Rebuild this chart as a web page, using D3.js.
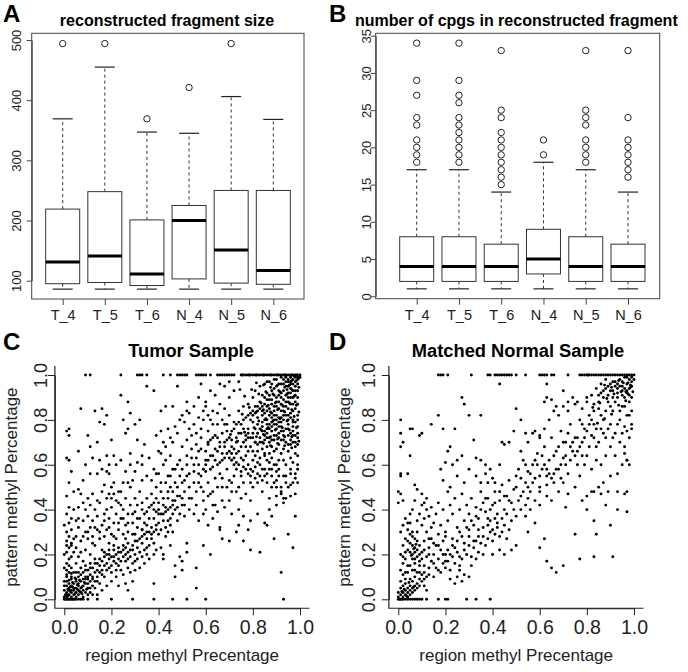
<!DOCTYPE html>
<html>
<head>
<meta charset="utf-8">
<script src="https://cdn.jsdelivr.net/npm/d3@7"></script>
<style>
  body { margin: 0; background: #fff; }
  svg, svg text { font-family: "Liberation Sans", Arial, Helvetica, sans-serif; }
</style>
</head>
<body>
<div id="chart"></div>
<script>
// ---- boxplot data (A, B) ----
var groups = ["T_4", "T_5", "T_6", "N_4", "N_5", "N_6"];
// [low whisker, q1, median, q3, high whisker]
var sizeStats = [[86, 95, 131, 219, 369], [86, 97, 141, 248, 455], [86, 92, 111, 201, 347],
                 [86, 103, 200, 225, 345], [86, 96, 151, 250, 406], [86, 94, 117, 250, 368]];
var sizeOutliers = [[494], [494], [369], [421], [494], []];
var sizeTicks = [100, 200, 300, 400, 500];

var cpgStats = [[1, 2, 4, 8, 17], [1, 2, 4, 8, 17], [1, 2, 4, 7, 14],
                [1, 3, 5, 9, 18], [1, 2, 4, 8, 17], [1, 2, 4, 7, 14]];
var cpgOutliers = [[18, 19, 20, 21, 23, 24, 27, 29, 34],
                   [18, 19, 20, 21, 22, 23, 24, 26, 27, 29, 34],
                   [15, 16, 17, 18, 19, 20, 21, 22, 24, 25, 33],
                   [19, 21],
                   [18, 19, 20, 21, 23, 24, 25, 33],
                   [16, 17, 18, 19, 20, 21, 24, 33]];
var cpgTicks = [0, 5, 10, 15, 20, 25, 30, 35];

// ---- scatter data (C, D) ----
var methTicks = [0, 0.2, 0.4, 0.6, 0.8, 1.0];

// points sitting on pattern = 1.0 and pattern = 0.0
var tumorTopX = [0.09, 0.11, 0.24, 0.31, 0.32, 0.33, 0.35, 0.42, 0.45, 0.48, 0.49, 0.5, 0.51, 0.52, 0.56, 0.57,
  0.58, 0.59, 0.6, 0.62, 0.65, 0.66, 0.67, 0.68, 0.69, 0.7, 0.71, 0.72, 0.75, 0.755, 0.76, 0.77, 0.78, 0.785,
  0.79, 0.8, 0.81, 0.815, 0.82, 0.83, 0.84, 0.845, 0.85, 0.86, 0.87, 0.875, 0.88, 0.89, 0.9, 0.905, 0.91, 0.92,
  0.93, 0.935, 0.94, 0.95, 0.96, 0.965, 0.97, 0.98, 0.985, 0.99, 1.0];
var tumorZeroX = [0, 0.005, 0.01, 0.015, 0.02, 0.025, 0.03, 0.035, 0.04, 0.045, 0.05, 0.06, 0.07, 0.08,
  0.1, 0.14, 0.2, 0.29, 0.38, 0.46, 0.52, 0.6, 0.93];
var tumorPoints = [
  // low-left cluster
  [0, 0.01], [0.01, 0.01], [0.01, 0.03], [0.02, 0.02], [0.02, 0.04], [0.03, 0.01], [0.03, 0.03], [0.03, 0.06],
  [0.04, 0.02], [0.04, 0.04], [0.04, 0.07], [0.05, 0.01], [0.05, 0.03], [0.05, 0.05], [0.06, 0.02], [0.06, 0.04],
  [0.06, 0.07], [0.07, 0.03], [0.07, 0.05], [0.07, 0.08], [0.08, 0.04], [0.08, 0.06], [0.09, 0.03], [0.09, 0.07],
  [0.1, 0.05], [0, 0.04], [0.01, 0.06], [0.02, 0.07], [0, 0.06], [0.01, 0.08], [0.03, 0.09], [0.05, 0.09],
  [0.04, 0.05], [0.02, 0.05], [0.06, 0.06], [0.03, 0.04], [0.01, 0.02], [0.08, 0.01], [0.1, 0.02], [0.11, 0.03],
  [0.11, 0.08], [0.12, 0.06], [0.13, 0.08], [0.09, 0.09], [0.1, 0.1], [0.015, 0.015], [0.025, 0.035], [0.045, 0.025],
  [0.035, 0.055], [0.055, 0.065], [0.065, 0.035], [0.075, 0.055],
  [0.005, 0.02], [0.015, 0.045], [0.025, 0.055], [0.035, 0.075], [0.045, 0.095], [0.055, 0.045], [0.065, 0.085],
  [0.075, 0.025], [0.085, 0.075], [0.095, 0.045], [0.02, 0.085], [0.01, 0.11], [0.03, 0.115], [0.05, 0.12], [0.07, 0.11],
  // left column
  [0, 0.08], [0.01, 0.1], [0.02, 0.12], [0, 0.14], [0.01, 0.16], [0.03, 0.14], [0.02, 0.18], [0, 0.2],
  [0.01, 0.21], [0.03, 0.19], [0.02, 0.23], [0.01, 0.26], [0.03, 0.24], [0.04, 0.21], [0.02, 0.28], [0.01, 0.3],
  [0.03, 0.31], [0.04, 0.27], [0.02, 0.34], [0, 0.33], [0.01, 0.38], [0.03, 0.36], [0.02, 0.41], [0.04, 0.4],
  [0.05, 0.16], [0.05, 0.23], [0.06, 0.19], [0.07, 0.14], [0.06, 0.12], [0.07, 0.21], [0.08, 0.17], [0.09, 0.15],
  [0.04, 0.12], [0.03, 0.1], [0.01, 0.13], [0.02, 0.15], [0.01, 0.24],
  // lower diagonal band
  [0.05, 0.08], [0.06, 0.1], [0.08, 0.09], [0.08, 0.12], [0.09, 0.1], [0.1, 0.13], [0.1, 0.09], [0.11, 0.11],
  [0.12, 0.14], [0.12, 0.1], [0.13, 0.12], [0.13, 0.16], [0.14, 0.13], [0.14, 0.1], [0.15, 0.15], [0.15, 0.12],
  [0.16, 0.17], [0.16, 0.13], [0.17, 0.15], [0.17, 0.19], [0.18, 0.16], [0.18, 0.13], [0.19, 0.18], [0.19, 0.2],
  [0.2, 0.15], [0.2, 0.19], [0.21, 0.17], [0.21, 0.22], [0.22, 0.2], [0.22, 0.16], [0.23, 0.18], [0.23, 0.23],
  [0.24, 0.21], [0.24, 0.17], [0.25, 0.19], [0.25, 0.24], [0.26, 0.2], [0.26, 0.23], [0.27, 0.18], [0.27, 0.25],
  [0.28, 0.22], [0.28, 0.19], [0.29, 0.24], [0.3, 0.2], [0.3, 0.26], [0.31, 0.23], [0.32, 0.27], [0.32, 0.21],
  [0.33, 0.25], [0.34, 0.29], [0.34, 0.22], [0.35, 0.27], [0.36, 0.3], [0.36, 0.24], [0.37, 0.32], [0.37, 0.27],
  [0.38, 0.3], [0.39, 0.33], [0.4, 0.29], [0.4, 0.34], [0.41, 0.31], [0.42, 0.35], [0.43, 0.32], [0.44, 0.3],
  [0.45, 0.33], [0.46, 0.3], [0.43, 0.28], [0.38, 0.25], [0.35, 0.2], [0.31, 0.18], [0.27, 0.14], [0.24, 0.13],
  [0.2, 0.12], [0.17, 0.1], [0.22, 0.13], [0.29, 0.16], [0.33, 0.19], [0.2, 0.08], [0.22, 0.1], [0.25, 0.11],
  [0.28, 0.12], [0.3, 0.13], [0.32, 0.14], [0.34, 0.16], [0.36, 0.18], [0.38, 0.2], [0.39, 0.22], [0.41, 0.23],
  [0.42, 0.2], [0.29, 0.08], [0.26, 0.07], [0.23, 0.06], [0.38, 0.07], [0.27, 0.04], [0.18, 0.06], [0.15, 0.07],
  [0.13, 0.05], [0.11, 0.05], [0.16, 0.04], [0.12, 0.02], [0.14, 0.02], [0.11, 0.14], [0.14, 0.16], [0.18, 0.2],
  [0.21, 0.24], [0.26, 0.27], [0.3, 0.29], [0.33, 0.31],
  [0.09, 0.13], [0.11, 0.16], [0.13, 0.18], [0.15, 0.18], [0.17, 0.21], [0.19, 0.22], [0.21, 0.19], [0.23, 0.21],
  [0.25, 0.22], [0.27, 0.21], [0.29, 0.22], [0.31, 0.26], [0.33, 0.28], [0.35, 0.3], [0.37, 0.29], [0.39, 0.31],
  [0.16, 0.11], [0.19, 0.14], [0.23, 0.15], [0.26, 0.17], [0.3, 0.17], [0.35, 0.23], [0.14, 0.08], [0.12, 0.09],
  [0.1, 0.07],
  // upper-left spread
  [0.03, 0.25], [0.05, 0.28], [0.06, 0.32], [0.07, 0.26], [0.08, 0.35], [0.09, 0.3], [0.09, 0.22], [0.1, 0.27],
  [0.1, 0.37], [0.11, 0.32], [0.11, 0.2], [0.12, 0.35], [0.12, 0.28], [0.13, 0.4], [0.13, 0.24], [0.14, 0.31],
  [0.14, 0.37], [0.15, 0.27], [0.15, 0.43], [0.16, 0.33], [0.16, 0.22], [0.17, 0.38], [0.17, 0.28], [0.18, 0.45],
  [0.18, 0.31], [0.19, 0.36], [0.19, 0.25], [0.2, 0.41], [0.2, 0.29], [0.21, 0.47], [0.21, 0.34], [0.22, 0.38],
  [0.22, 0.27], [0.23, 0.43], [0.23, 0.31], [0.24, 0.36], [0.24, 0.48], [0.25, 0.29], [0.25, 0.4], [0.26, 0.33],
  [0.26, 0.45], [0.27, 0.38], [0.27, 0.3], [0.28, 0.42], [0.28, 0.5], [0.29, 0.34], [0.29, 0.29], [0.3, 0.39],
  [0.3, 0.45], [0.31, 0.32], [0.31, 0.42], [0.32, 0.36], [0.32, 0.48], [0.33, 0.31], [0.33, 0.43], [0.34, 0.38],
  [0.34, 0.34], [0.35, 0.45], [0.35, 0.33], [0.36, 0.41], [0.36, 0.36], [0.37, 0.47], [0.38, 0.36], [0.38, 0.43],
  [0.39, 0.39], [0.39, 0.5], [0.4, 0.43], [0.41, 0.38], [0.41, 0.52], [0.42, 0.45], [0.43, 0.41], [0.44, 0.48],
  [0.45, 0.36], [0.46, 0.44], [0.47, 0.4], [0.48, 0.46], [0.49, 0.38], [0.5, 0.45],
  [0.05, 0.35], [0.06, 0.41], [0.07, 0.47], [0.08, 0.43], [0.09, 0.4], [0.1, 0.45], [0.11, 0.42], [0.12, 0.47],
  [0.14, 0.44], [0.16, 0.48], [0.17, 0.51], [0.19, 0.47], [0.2, 0.5], [0.21, 0.52], [0.23, 0.48], [0.25, 0.52],
  [0.26, 0.57], [0.27, 0.52], [0.29, 0.53], [0.3, 0.57], [0.33, 0.53], [0.35, 0.55], [0.37, 0.53], [0.39, 0.56],
  [0.31, 0.61], [0.28, 0.6], [0.24, 0.62], [0.21, 0.64], [0.19, 0.6], [0.18, 0.64], [0.15, 0.62], [0.11, 0.56],
  [0.08, 0.53], [0.06, 0.49], [0.04, 0.48], [0.02, 0.52],
  [0.06, 0.36], [0.08, 0.28], [0.1, 0.3], [0.12, 0.25], [0.13, 0.32], [0.15, 0.3], [0.17, 0.35], [0.19, 0.32],
  [0.21, 0.28], [0.23, 0.34], [0.25, 0.36], [0.27, 0.34], [0.29, 0.38], [0.31, 0.36], [0.33, 0.4], [0.35, 0.39],
  [0.37, 0.42], [0.2, 0.45], [0.22, 0.44], [0.24, 0.42], [0.18, 0.4],
  // upper-left sparse
  [0.01, 0.75], [0.02, 0.73], [0.02, 0.76], [0.01, 0.63], [0.02, 0.62], [0.03, 0.57], [0.01, 0.46], [0.07, 0.85],
  [0.09, 0.6], [0.1, 0.73], [0.12, 0.63], [0.13, 0.84], [0.14, 0.7], [0.16, 0.85], [0.17, 0.78], [0.18, 0.82],
  [0.14, 0.56], [0.16, 0.58], [0.18, 0.57], [0.19, 0.56], [0.24, 0.91], [0.27, 0.76], [0.26, 0.74], [0.28, 0.65],
  [0.27, 0.88], [0.3, 0.78], [0.31, 0.71], [0.33, 0.64], [0.34, 0.69], [0.35, 0.95], [0.38, 0.93], [0.41, 0.84],
  [0.38, 0.58], [0.39, 0.73], [0.4, 0.66], [0.2, 0.71], [0.11, 0.68], [0.06, 0.66], [0.22, 0.6], [0.33, 0.6],
  [0.36, 0.63], [0.41, 0.75], [0.42, 0.7], [0.44, 0.76], [0.45, 0.72], [0.43, 0.62], [0.43, 0.86], [0.46, 0.86],
  [0.48, 0.95], [0.5, 0.82], [0.52, 0.88], [0.55, 0.86], [0.57, 0.9], [0.6, 0.88], [0.62, 0.93], [0.64, 0.91],
  [0.66, 0.96], [0.68, 0.95], [0.7, 0.9], [0.72, 0.93], [0.74, 0.97], [0.7, 0.97], [0.58, 0.96], [0.15, 0.79],
  [0.25, 0.8], [0.32, 0.8], [0.28, 0.83],
  // middle band
  [0.4, 0.38], [0.42, 0.42], [0.43, 0.39], [0.44, 0.45], [0.45, 0.41], [0.46, 0.48], [0.47, 0.44], [0.48, 0.5],
  [0.49, 0.46], [0.5, 0.52], [0.5, 0.42], [0.51, 0.48], [0.52, 0.55], [0.53, 0.5], [0.54, 0.45], [0.55, 0.57],
  [0.55, 0.52], [0.56, 0.48], [0.57, 0.6], [0.58, 0.55], [0.58, 0.5], [0.59, 0.44], [0.6, 0.62], [0.6, 0.57],
  [0.61, 0.52], [0.62, 0.47], [0.62, 0.64], [0.63, 0.59], [0.64, 0.54], [0.64, 0.42], [0.65, 0.66], [0.66, 0.61],
  [0.66, 0.56], [0.67, 0.5], [0.68, 0.68], [0.68, 0.63], [0.69, 0.58], [0.7, 0.53], [0.7, 0.44], [0.71, 0.65],
  [0.72, 0.6], [0.72, 0.55], [0.73, 0.7], [0.74, 0.5], [0.75, 0.63], [0.75, 0.57], [0.76, 0.52], [0.77, 0.68],
  [0.77, 0.47], [0.78, 0.6], [0.79, 0.55], [0.8, 0.5], [0.8, 0.66], [0.81, 0.59], [0.82, 0.52], [0.83, 0.63],
  [0.84, 0.48], [0.85, 0.58], [0.86, 0.52], [0.87, 0.45], [0.88, 0.55], [0.89, 0.6], [0.9, 0.53], [0.91, 0.58],
  [0.92, 0.5], [0.94, 0.55], [0.96, 0.58], [0.98, 0.54], [0.99, 0.6], [0.98, 0.47],
  [0.38, 0.4], [0.39, 0.45], [0.41, 0.48], [0.43, 0.52], [0.44, 0.35], [0.45, 0.55], [0.46, 0.38], [0.47, 0.58],
  [0.48, 0.35], [0.49, 0.62], [0.51, 0.37], [0.52, 0.6], [0.53, 0.4], [0.54, 0.63], [0.56, 0.42], [0.57, 0.66],
  [0.59, 0.38], [0.61, 0.69], [0.63, 0.48], [0.65, 0.72], [0.67, 0.44], [0.69, 0.75], [0.71, 0.48], [0.73, 0.78],
  [0.75, 0.45], [0.77, 0.73], [0.79, 0.44], [0.81, 0.7], [0.83, 0.55], [0.85, 0.65], [0.86, 0.62], [0.88, 0.68],
  [0.46, 0.7], [0.48, 0.74], [0.5, 0.68], [0.52, 0.71], [0.53, 0.76], [0.47, 0.77], [0.45, 0.64], [0.42, 0.6],
  [0.4, 0.56], [0.41, 0.65], [0.43, 0.68], [0.49, 0.8], [0.52, 0.84], [0.54, 0.73], [0.56, 0.69], [0.58, 0.76],
  [0.59, 0.8], [0.61, 0.75], [0.63, 0.72], [0.6, 0.66], [0.62, 0.58], [0.64, 0.62], [0.66, 0.7], [0.68, 0.78],
  [0.7, 0.72], [0.72, 0.67], [0.74, 0.74], [0.76, 0.76], [0.78, 0.72],
  [0.55, 0.38], [0.57, 0.35], [0.6, 0.4], [0.63, 0.36], [0.65, 0.39], [0.68, 0.41], [0.71, 0.38], [0.74, 0.4],
  [0.76, 0.37], [0.79, 0.35], [0.82, 0.38], [0.85, 0.34], [0.87, 0.4], [0.9, 0.42], [0.93, 0.43], [0.96, 0.46],
  [0.61, 0.33], [0.66, 0.32], [0.74, 0.33],
  [0.45, 0.5], [0.47, 0.52], [0.49, 0.55], [0.51, 0.53], [0.53, 0.56], [0.55, 0.6], [0.57, 0.56], [0.59, 0.58],
  [0.61, 0.62], [0.63, 0.64], [0.65, 0.6], [0.67, 0.62], [0.69, 0.65], [0.71, 0.62], [0.73, 0.58], [0.75, 0.55],
  [0.77, 0.58], [0.79, 0.52], [0.81, 0.54], [0.57, 0.52], [0.59, 0.48], [0.61, 0.46], [0.63, 0.42], [0.65, 0.5],
  [0.67, 0.54], [0.69, 0.5], [0.71, 0.52], [0.73, 0.48], [0.53, 0.45], [0.51, 0.42], [0.48, 0.41], [0.46, 0.42],
  [0.44, 0.4], [0.42, 0.38], [0.4, 0.4], [0.5, 0.58], [0.48, 0.6], [0.46, 0.58], [0.44, 0.55], [0.52, 0.64],
  [0.54, 0.67], [0.56, 0.63], [0.58, 0.67], [0.6, 0.6], [0.62, 0.71],
  // upper-right dense
  [0.96, 0.99], [0.97, 0.98], [0.98, 0.99], [0.99, 0.98], [1.0, 0.99], [0.95, 0.97], [0.97, 0.96], [0.99, 0.96],
  [0.94, 0.95], [0.96, 0.94], [0.98, 0.95], [0.93, 0.93], [0.95, 0.92], [0.97, 0.93], [0.99, 0.93], [0.92, 0.9],
  [0.94, 0.91], [0.96, 0.9], [0.98, 0.91], [0.9, 0.88], [0.92, 0.87], [0.94, 0.88], [0.96, 0.87], [0.98, 0.88],
  [0.89, 0.86], [0.91, 0.85], [0.93, 0.84], [0.95, 0.85], [0.97, 0.84], [0.88, 0.83], [0.9, 0.82], [0.92, 0.81],
  [0.94, 0.82], [0.96, 0.81], [0.86, 0.8], [0.88, 0.79], [0.9, 0.78], [0.92, 0.77], [0.95, 0.78], [0.98, 0.79],
  [0.84, 0.77], [0.86, 0.76], [0.88, 0.75], [0.91, 0.74], [0.93, 0.73], [0.97, 0.75], [0.82, 0.74], [0.85, 0.73],
  [0.87, 0.72], [0.89, 0.71], [0.94, 0.7], [0.96, 0.71], [0.99, 0.72], [0.8, 0.79], [0.82, 0.81], [0.84, 0.84],
  [0.86, 0.86], [0.87, 0.89], [0.89, 0.91], [0.91, 0.93], [0.93, 0.96], [0.95, 0.98], [0.9, 0.95], [0.88, 0.93],
  [0.85, 0.9], [0.83, 0.88], [0.81, 0.86], [0.79, 0.83], [0.78, 0.87], [0.8, 0.9], [0.76, 0.86], [0.74, 0.84],
  [0.77, 0.81], [0.75, 0.78], [0.78, 0.76], [0.8, 0.74], [0.83, 0.7], [0.86, 0.68], [0.9, 0.67], [0.92, 0.65],
  [0.95, 0.66], [0.98, 0.68], [0.99, 0.64], [0.97, 0.61], [0.94, 0.6], [0.91, 0.62], [0.88, 0.63], [0.85, 0.64],
  [0.82, 0.66], [0.79, 0.68], [0.76, 0.7], [0.73, 0.72], [0.71, 0.75], [0.72, 0.79], [0.7, 0.82], [0.68, 0.85],
  [0.66, 0.87], [0.63, 0.84], [0.6, 0.86], [0.62, 0.8], [0.65, 0.78], [0.67, 0.74], [0.69, 0.71], [0.71, 0.68],
  [0.74, 0.66], [0.77, 0.64], [0.8, 0.62], [0.83, 0.6], [0.87, 0.58], [0.9, 0.57], [0.93, 0.55], [0.96, 0.56],
  [0.99, 0.58], [0.97, 0.52], [0.95, 0.5], [0.92, 0.48], [0.9, 0.46], [0.93, 0.45], [0.88, 0.5], [0.89, 0.52],
  [0.85, 0.55], [0.82, 0.56], [0.79, 0.58], [0.76, 0.59], [0.73, 0.61], [0.7, 0.63], [0.67, 0.65], [0.64, 0.67],
  [0.61, 0.7], [0.58, 0.72], [0.56, 0.74], [0.55, 0.78], [0.57, 0.81], [0.53, 0.83], [0.51, 0.79],
  [0.87, 0.97], [0.89, 0.98], [0.92, 0.99], [0.94, 0.99], [0.91, 0.96], [0.93, 0.98], [0.96, 0.96], [0.98, 0.97],
  [0.99, 0.99], [0.95, 0.95], [0.97, 0.9], [0.99, 0.87], [0.95, 0.88], [0.93, 0.86], [0.91, 0.88], [0.89, 0.84],
  [0.87, 0.82], [0.85, 0.8], [0.87, 0.78], [0.89, 0.8], [0.91, 0.79], [0.93, 0.8], [0.95, 0.82], [0.97, 0.8],
  [0.99, 0.82], [0.98, 0.85], [0.96, 0.83], [0.94, 0.86], [0.92, 0.84], [0.9, 0.86], [0.88, 0.87], [0.86, 0.84],
  [0.84, 0.82], [0.82, 0.78], [0.84, 0.75], [0.86, 0.74], [0.88, 0.77], [0.9, 0.76], [0.92, 0.75], [0.94, 0.76],
  [0.96, 0.74], [0.98, 0.73], [0.99, 0.77], [0.97, 0.77], [0.95, 0.73], [0.93, 0.71], [0.91, 0.72], [0.89, 0.73],
  [0.87, 0.7], [0.85, 0.71], [0.83, 0.72], [0.81, 0.76], [0.79, 0.8], [0.81, 0.83], [0.83, 0.85], [0.85, 0.87],
  [0.87, 0.91], [0.89, 0.94], [0.84, 0.79], [0.86, 0.92], [0.92, 0.92], [0.9, 0.9], [0.88, 0.89], [0.96, 0.92],
  [0.98, 0.93], [0.975, 0.995], [0.985, 0.975], [0.965, 0.975], [0.995, 0.985], [0.955, 0.955], [0.945, 0.935],
  [0.81, 0.93], [0.83, 0.95], [0.85, 0.96], [0.84, 0.91], [0.82, 0.86], [0.8, 0.84], [0.78, 0.82], [0.76, 0.8],
  [0.74, 0.79], [0.72, 0.76], [0.75, 0.74], [0.77, 0.71], [0.79, 0.72], [0.81, 0.7], [0.84, 0.67], [0.87, 0.65],
  [0.89, 0.66], [0.91, 0.69], [0.93, 0.67], [0.95, 0.69], [0.97, 0.7], [0.99, 0.69], [0.98, 0.65], [0.96, 0.63],
  [0.93, 0.62], [0.9, 0.6], [0.87, 0.61], [0.84, 0.58], [0.81, 0.64], [0.78, 0.66], [0.75, 0.68], [0.73, 0.65],
  [0.71, 0.71], [0.69, 0.78], [0.67, 0.8], [0.65, 0.83], [0.63, 0.78], [0.61, 0.82], [0.59, 0.84], [0.64, 0.73],
  [0.66, 0.68], [0.68, 0.7], [0.7, 0.66], [0.72, 0.63], [0.74, 0.6], [0.76, 0.62], [0.78, 0.56], [0.8, 0.57],
  [0.82, 0.61], [0.84, 0.53], [0.86, 0.56], [0.88, 0.58], [0.91, 0.55], [0.94, 0.52], [0.96, 0.51], [0.98, 0.56],
  [0.99, 0.52], [0.86, 0.97], [0.88, 0.96], [0.9, 0.98], [0.92, 0.96], [0.94, 0.97], [0.96, 0.97], [0.91, 0.91],
  [0.93, 0.89], [0.95, 0.9], [0.97, 0.87], [0.99, 0.9], [0.86, 0.89], [0.84, 0.86], [0.82, 0.84], [0.8, 0.82],
  [0.85, 0.83], [0.87, 0.85], [0.89, 0.82], [0.91, 0.81], [0.93, 0.82], [0.95, 0.8], [0.97, 0.79], [0.99, 0.8],
  [0.92, 0.79], [0.9, 0.8], [0.88, 0.81], [0.86, 0.78], [0.83, 0.76], [0.85, 0.75], [0.87, 0.76], [0.89, 0.78],
  [0.91, 0.77], [0.93, 0.75], [0.95, 0.76], [0.97, 0.73], [0.99, 0.74], [0.98, 0.7], [0.96, 0.69], [0.92, 0.71],
  [0.9, 0.73], [0.88, 0.71], [0.86, 0.72], [0.84, 0.7], [0.82, 0.69], [0.8, 0.72], [0.78, 0.74],
  [0.815, 0.965], [0.845, 0.955], [0.875, 0.945], [0.905, 0.955], [0.935, 0.945], [0.965, 0.935], [0.995, 0.945],
  [0.825, 0.915], [0.855, 0.925], [0.885, 0.915], [0.915, 0.925], [0.945, 0.915], [0.975, 0.905], [0.835, 0.875],
  [0.865, 0.865], [0.895, 0.875], [0.925, 0.865], [0.955, 0.875], [0.985, 0.865], [0.815, 0.835], [0.845, 0.845],
  [0.875, 0.835], [0.905, 0.845], [0.935, 0.835], [0.965, 0.845], [0.995, 0.835], [0.825, 0.795], [0.855, 0.805],
  [0.885, 0.795], [0.915, 0.805], [0.945, 0.795], [0.975, 0.815], [0.805, 0.765], [0.835, 0.755], [0.865, 0.765],
  [0.895, 0.755], [0.925, 0.765], [0.955, 0.755], [0.985, 0.765], [0.815, 0.725], [0.845, 0.735], [0.875, 0.725],
  [0.905, 0.715], [0.935, 0.725], [0.965, 0.725], [0.995, 0.705], [0.845, 0.695], [0.875, 0.685], [0.905, 0.695],
  [0.935, 0.685], [0.965, 0.675], [0.765, 0.745], [0.735, 0.705], [0.705, 0.735], [0.755, 0.825], [0.785, 0.855],
  [0.765, 0.905], [0.795, 0.935], [0.745, 0.935],
  // lower-right sparse
  [0.56, 0.14], [0.59, 0.24], [0.62, 0.2], [0.66, 0.31], [0.67, 0.27], [0.7, 0.26], [0.73, 0.3], [0.76, 0.26],
  [0.78, 0.31], [0.79, 0.22], [0.83, 0.21], [0.86, 0.33], [0.88, 0.37], [0.89, 0.27], [0.95, 0.29], [0.97, 0.23],
  [0.98, 0.37], [0.92, 0.12], [0.47, 0.1], [0.47, 0.15], [0.5, 0.13], [0.49, 0.19], [0.5, 0.17], [0.56, 0.05],
  [0.52, 0.21], [0.42, 0.18], [0.9, 0.5], [0.92, 0.47], [0.94, 0.45], [0.52, 0.25], [0.45, 0.24]
];

var normalTopX = [0.17, 0.18, 0.19, 0.21, 0.31, 0.38, 0.39, 0.41, 0.42, 0.43, 0.44, 0.45, 0.46, 0.47, 0.48,
  0.5, 0.54, 0.6, 0.61, 0.62, 0.63, 0.65, 0.66, 0.72, 0.77, 0.78, 0.79, 0.8, 0.805, 0.81, 0.82, 0.83, 0.84,
  0.85, 0.86, 0.87, 0.88, 0.89, 0.9, 0.91, 0.92, 0.93, 0.94, 0.95, 0.96, 0.97, 0.98, 0.99, 1.0];
var normalZeroX = [0, 0.005, 0.01, 0.015, 0.02, 0.03, 0.04, 0.05, 0.06, 0.07, 0.08, 0.09, 0.1, 0.12, 0.17,
  0.2, 0.21, 0.29, 0.33, 0.39];
var normalPoints = [
  // low-left cluster
  [0, 0.01], [0.01, 0.02], [0.02, 0.01], [0.02, 0.03], [0.03, 0.02], [0.03, 0.04], [0.04, 0.01], [0.04, 0.03],
  [0.04, 0.05], [0.05, 0.02], [0.05, 0.04], [0.05, 0.06], [0.06, 0.03], [0.06, 0.05], [0.07, 0.04], [0.07, 0.06],
  [0.08, 0.05], [0.08, 0.07], [0.09, 0.06], [0.1, 0.08], [0.01, 0.05], [0.02, 0.06], [0.03, 0.07], [0.03, 0.09],
  [0.05, 0.09], [0.06, 0.08], [0.07, 0.1], [0.09, 0.09], [0.11, 0.06], [0.12, 0.04], [0, 0.03], [0.01, 0.08],
  [0.02, 0.11], [0.04, 0.12], [0.06, 0.13], [0.08, 0.12], [0.1, 0.11], [0.12, 0.1], [0.015, 0.035], [0.035, 0.015],
  [0.045, 0.075], [0.065, 0.055], [0.025, 0.045],
  // left column, sparse
  [0.01, 0.8], [0.01, 0.74], [0.02, 0.7], [0.05, 0.76], [0.06, 0.76], [0.1, 0.74], [0.09, 0.73], [0.01, 0.68],
  [0.01, 0.56], [0.01, 0.55], [0.04, 0.56], [0.05, 0.64], [0, 0.48], [0.01, 0.47], [0, 0.43], [0.02, 0.44],
  [0.07, 0.51], [0.08, 0.49], [0.1, 0.47], [0.11, 0.43],
  // left dense region
  [0.01, 0.13], [0.02, 0.16], [0.01, 0.2], [0.03, 0.18], [0.02, 0.24], [0.04, 0.22], [0.03, 0.27], [0.01, 0.3],
  [0.02, 0.33], [0.04, 0.31], [0.03, 0.36], [0.05, 0.34], [0.06, 0.28], [0.05, 0.25], [0.06, 0.2], [0.07, 0.23],
  [0.06, 0.24], [0.07, 0.21], [0.08, 0.22], [0.05, 0.21], [0.06, 0.18], [0.07, 0.16], [0.08, 0.19], [0.09, 0.24],
  [0.07, 0.27], [0.08, 0.3], [0.09, 0.15], [0.1, 0.18], [0.1, 0.21], [0.11, 0.15], [0.09, 0.12], [0.11, 0.26],
  [0.12, 0.19], [0.12, 0.3], [0.13, 0.23], [0.13, 0.14], [0.14, 0.17], [0.14, 0.27], [0.15, 0.2], [0.15, 0.34],
  [0.16, 0.24], [0.16, 0.14], [0.17, 0.18], [0.17, 0.29], [0.18, 0.22], [0.18, 0.33], [0.19, 0.26], [0.19, 0.16],
  [0.2, 0.2], [0.2, 0.3], [0.08, 0.35], [0.09, 0.38], [0.1, 0.33], [0.11, 0.36], [0.12, 0.4], [0.13, 0.37],
  [0.14, 0.32], [0.06, 0.4], [0.07, 0.44], [0.05, 0.38], [0.1, 0.42], [0.12, 0.45], [0.14, 0.41], [0.16, 0.38],
  [0.17, 0.43], [0.19, 0.4], [0.04, 0.15], [0.03, 0.12], [0.11, 0.09], [0.13, 0.11], [0.15, 0.1], [0.05, 0.29],
  [0.04, 0.26], [0.065, 0.225], [0.075, 0.245], [0.055, 0.195],
  [0.17, 0.24], [0.15, 0.25], [0.13, 0.27], [0.11, 0.22], [0.09, 0.2], [0.08, 0.26], [0.06, 0.3], [0.04, 0.34],
  [0.03, 0.21], [0.02, 0.19], [0.07, 0.18], [0.05, 0.15], [0.07, 0.13], [0.09, 0.17], [0.11, 0.12], [0.13, 0.2],
  [0.15, 0.16], [0.17, 0.13],
  // lower diagonal band
  [0.18, 0.12], [0.2, 0.14], [0.21, 0.17], [0.22, 0.13], [0.23, 0.19], [0.24, 0.16], [0.25, 0.21], [0.26, 0.15],
  [0.27, 0.18], [0.28, 0.22], [0.29, 0.2], [0.3, 0.24], [0.31, 0.19], [0.32, 0.23], [0.33, 0.26], [0.34, 0.21],
  [0.35, 0.25], [0.36, 0.28], [0.37, 0.24], [0.38, 0.27], [0.39, 0.3], [0.4, 0.26], [0.41, 0.29], [0.42, 0.32],
  [0.43, 0.28], [0.44, 0.3], [0.45, 0.33], [0.46, 0.27], [0.47, 0.31], [0.48, 0.22], [0.5, 0.24], [0.25, 0.1],
  [0.27, 0.08], [0.28, 0.11], [0.3, 0.1], [0.24, 0.07], [0.22, 0.09], [0.33, 0.18], [0.36, 0.2], [0.4, 0.2],
  [0.43, 0.22], [0.45, 0.2], [0.26, 0.13], [0.31, 0.15],
  [0.19, 0.2], [0.21, 0.22], [0.23, 0.24], [0.25, 0.26], [0.27, 0.28], [0.29, 0.32], [0.31, 0.35], [0.33, 0.37],
  [0.2, 0.17], [0.22, 0.2], [0.24, 0.23], [0.26, 0.19], [0.28, 0.25], [0.3, 0.28], [0.32, 0.26], [0.34, 0.28],
  [0.36, 0.32], [0.38, 0.36], [0.4, 0.31], [0.42, 0.34], [0.44, 0.36], [0.46, 0.38], [0.48, 0.35], [0.5, 0.37],
  [0.52, 0.4], [0.54, 0.42], [0.56, 0.4],
  // upper middle
  [0.21, 0.35], [0.22, 0.42], [0.23, 0.38], [0.24, 0.45], [0.25, 0.32], [0.26, 0.4], [0.27, 0.47], [0.28, 0.35],
  [0.29, 0.42], [0.3, 0.38], [0.31, 0.45], [0.32, 0.33], [0.33, 0.41], [0.34, 0.36], [0.35, 0.48], [0.36, 0.43],
  [0.37, 0.39], [0.38, 0.45], [0.39, 0.35], [0.4, 0.42], [0.41, 0.48], [0.42, 0.38], [0.43, 0.44], [0.44, 0.51],
  [0.45, 0.4], [0.46, 0.46], [0.47, 0.53], [0.48, 0.43], [0.49, 0.49], [0.5, 0.55], [0.22, 0.5], [0.25, 0.55],
  [0.28, 0.52], [0.3, 0.58], [0.33, 0.55], [0.35, 0.52], [0.37, 0.56], [0.26, 0.3], [0.3, 0.31], [0.34, 0.31],
  [0.38, 0.33], [0.41, 0.36], [0.2, 0.28], [0.23, 0.27], [0.21, 0.48], [0.19, 0.53], [0.18, 0.58], [0.2, 0.61],
  [0.21, 0.66], [0.35, 0.4], [0.37, 0.45], [0.39, 0.4], [0.41, 0.43], [0.43, 0.48], [0.45, 0.46], [0.47, 0.44],
  [0.49, 0.4], [0.51, 0.44], [0.53, 0.48], [0.55, 0.5], [0.57, 0.52],
  // sparse upper middle
  [0.17, 0.82], [0.19, 0.76], [0.24, 0.76], [0.27, 0.9], [0.28, 0.87], [0.22, 0.68], [0.23, 0.6], [0.25, 0.62],
  [0.3, 0.82], [0.35, 0.82], [0.32, 0.71], [0.33, 0.63], [0.35, 0.62], [0.37, 0.6], [0.39, 0.58], [0.4, 0.54],
  [0.38, 0.52], [0.41, 0.52], [0.43, 0.6], [0.44, 0.7], [0.45, 0.69], [0.47, 0.7], [0.49, 0.75], [0.5, 0.85],
  [0.52, 0.8], [0.54, 0.74], [0.58, 0.75], [0.6, 0.73], [0.62, 0.88], [0.63, 0.96], [0.65, 0.89], [0.67, 0.86],
  [0.7, 0.93], [0.72, 0.88], [0.75, 0.87], [0.8, 0.9], [0.43, 0.96], [0.63, 0.9], [0.14, 0.78], [0.27, 0.64],
  // middle
  [0.5, 0.5], [0.51, 0.58], [0.52, 0.46], [0.53, 0.62], [0.54, 0.52], [0.55, 0.57], [0.56, 0.48], [0.57, 0.6],
  [0.58, 0.54], [0.59, 0.65], [0.6, 0.5], [0.61, 0.58], [0.62, 0.68], [0.63, 0.55], [0.64, 0.62], [0.65, 0.72],
  [0.66, 0.52], [0.67, 0.66], [0.68, 0.58], [0.69, 0.75], [0.7, 0.63], [0.71, 0.7], [0.72, 0.56], [0.73, 0.78],
  [0.74, 0.66], [0.75, 0.72], [0.76, 0.6], [0.77, 0.8], [0.78, 0.7], [0.79, 0.76], [0.8, 0.64], [0.81, 0.82],
  [0.82, 0.73], [0.83, 0.78], [0.84, 0.68], [0.85, 0.85], [0.86, 0.76], [0.87, 0.8], [0.88, 0.72], [0.89, 0.88],
  [0.9, 0.78], [0.91, 0.84], [0.92, 0.74], [0.93, 0.9], [0.94, 0.8], [0.95, 0.86], [0.96, 0.77], [0.97, 0.82],
  [0.98, 0.88], [0.99, 0.84], [0.52, 0.66], [0.55, 0.7], [0.57, 0.74], [0.6, 0.72], [0.62, 0.76], [0.64, 0.8],
  [0.66, 0.84], [0.68, 0.82], [0.7, 0.86], [0.72, 0.84], [0.74, 0.9], [0.76, 0.88], [0.78, 0.85], [0.8, 0.88],
  [0.55, 0.45], [0.58, 0.44], [0.6, 0.42], [0.63, 0.46], [0.65, 0.44], [0.68, 0.48], [0.7, 0.52], [0.72, 0.47],
  [0.75, 0.5], [0.77, 0.55], [0.79, 0.6], [0.82, 0.58], [0.84, 0.62], [0.86, 0.6], [0.88, 0.64], [0.9, 0.68],
  [0.92, 0.64], [0.94, 0.7], [0.96, 0.68], [0.98, 0.72], [0.99, 0.76], [0.97, 0.62], [0.95, 0.6], [0.93, 0.56],
  [0.9, 0.55], [0.87, 0.52], [0.85, 0.5], [0.82, 0.48], [0.8, 0.46], [0.78, 0.44], [0.6, 0.48], [0.63, 0.51],
  [0.66, 0.56], [0.69, 0.54], [0.71, 0.6], [0.73, 0.62], [0.76, 0.66], [0.78, 0.64], [0.81, 0.68], [0.83, 0.72],
  [0.85, 0.7], [0.87, 0.74], [0.89, 0.76], [0.91, 0.72], [0.93, 0.78], [0.95, 0.74],
  [0.52, 0.54], [0.54, 0.6], [0.56, 0.56], [0.58, 0.62], [0.6, 0.55], [0.62, 0.6], [0.64, 0.56], [0.66, 0.64],
  [0.68, 0.68], [0.7, 0.7], [0.72, 0.74], [0.74, 0.7], [0.76, 0.72], [0.78, 0.78], [0.8, 0.75], [0.82, 0.8],
  [0.84, 0.76], [0.86, 0.82], [0.88, 0.84], [0.9, 0.86], [0.92, 0.88], [0.94, 0.84], [0.96, 0.86], [0.98, 0.82],
  [0.99, 0.9], [0.83, 0.84], [0.81, 0.78], [0.79, 0.72], [0.77, 0.68], [0.75, 0.64], [0.73, 0.68], [0.71, 0.64],
  [0.69, 0.6], [0.67, 0.58], [0.65, 0.54], [0.63, 0.58], [0.61, 0.64], [0.59, 0.6],
  // upper-right dense
  [0.86, 0.92], [0.88, 0.94], [0.89, 0.91], [0.9, 0.96], [0.91, 0.93], [0.92, 0.97], [0.93, 0.94], [0.94, 0.98],
  [0.95, 0.95], [0.96, 0.99], [0.97, 0.96], [0.98, 0.98], [0.99, 0.95], [1.0, 0.98], [0.97, 0.93], [0.95, 0.91],
  [0.93, 0.92], [0.91, 0.9], [0.96, 0.94], [0.98, 0.94], [0.99, 0.97], [0.94, 0.95], [0.92, 0.95], [0.9, 0.93],
  [0.87, 0.9], [0.85, 0.88], [0.83, 0.87], [0.82, 0.91], [0.84, 0.94], [0.86, 0.96], [0.88, 0.98], [0.95, 0.97],
  [0.97, 0.99], [0.99, 0.99], [0.96, 0.9], [0.98, 0.91], [0.975, 0.965], [0.985, 0.955], [0.965, 0.925],
  [0.97, 0.92], [0.95, 0.93], [0.93, 0.96], [0.91, 0.97], [0.89, 0.95], [0.87, 0.93], [0.85, 0.91],
  [0.875, 0.955], [0.905, 0.945], [0.935, 0.975], [0.955, 0.965], [0.985, 0.945], [0.915, 0.915], [0.945, 0.925],
  [0.975, 0.915], [0.885, 0.895], [0.855, 0.875], [0.825, 0.855], [0.995, 0.925], [0.965, 0.885], [0.935, 0.865],
  [0.905, 0.825], [0.875, 0.805], [0.845, 0.785],
  // lower-right sparse
  [0.63, 0.17], [0.65, 0.14], [0.67, 0.12], [0.7, 0.15], [0.77, 0.18], [0.83, 0.19], [0.91, 0.19], [0.62, 0.27],
  [0.6, 0.23], [0.75, 0.29], [0.84, 0.29], [0.83, 0.35], [0.9, 0.33], [0.97, 0.39], [0.93, 0.4], [0.88, 0.42],
  [0.71, 0.41], [0.8, 0.4], [0.97, 0.48], [0.96, 0.47], [0.93, 0.48], [0.89, 0.48], [0.86, 0.47], [0.83, 0.48],
  [0.97, 0.62], [0.98, 0.6], [0.96, 0.65], [0.97, 0.75], [0.99, 0.78], [0.58, 0.34], [0.55, 0.3], [0.54, 0.37]
];

// ---- drawing ----
var FONT = "'Liberation Sans', Arial, Helvetica, sans-serif";

var svg = d3.select("#chart").append("svg")
  .attr("width", 688)
  .attr("height", 672);

svg.append("rect").attr("width", 688).attr("height", 672).attr("fill", "#fff");

function panel_letter(txt, x, y) {
  svg.append("text")
    .attr("x", x).attr("y", y)
    .attr("font-family", FONT)
    .attr("font-size", "24px")
    .attr("font-weight", "bold")
    .text(txt);
}

// rotate the tick labels of a left axis like R does (las = 0)
function rotate_y_labels(g, offset, fontSize) {
  g.selectAll(".tick text")
    .attr("x", 0)
    .attr("y", 0)
    .attr("dy", "0.36em")
    .attr("font-size", fontSize)
    .attr("fill", "#222")
    .style("text-anchor", "middle")
    .attr("transform", "translate(" + (-offset) + ",0) rotate(-90)");
}

function boxplot(opts) {
  var x = d3.scalePoint().domain(groups).range([opts.x0, opts.x1]);
  var y = d3.scaleLinear().domain(opts.domain).range(opts.yrange);
  var bw = opts.boxWidth;

  // frame
  svg.append("rect")
    .attr("x", opts.left).attr("y", opts.top)
    .attr("width", opts.right - opts.left).attr("height", opts.bottom - opts.top)
    .attr("fill", "none").attr("stroke", "#444").attr("stroke-width", 1);

  // y axis
  var ya = svg.append("g")
    .attr("transform", "translate(" + opts.left + ",0)")
    .call(d3.axisLeft(y).tickValues(opts.ticks).tickSize(5).tickSizeOuter(0))
    .attr("font-family", FONT);
  ya.select(".domain").attr("stroke", "#444");
  ya.selectAll(".tick line").attr("stroke", "#444");
  rotate_y_labels(ya, opts.ylabOffset, "13px");

  // x axis
  var xa = svg.append("g")
    .attr("transform", "translate(0," + opts.bottom + ")")
    .call(d3.axisBottom(x).tickSize(6).tickSizeOuter(0))
    .attr("font-family", FONT);
  xa.select(".domain").remove();
  xa.selectAll(".tick line").attr("stroke", "#444");
  xa.selectAll(".tick text")
    .attr("font-size", "14.5px")
    .attr("fill", "#222")
    .attr("y", 11);

  var g = svg.append("g");
  groups.forEach(function(name, i) {
    var s = opts.stats[i], cx = x(name);
    // whiskers
    g.append("line")
      .attr("x1", cx).attr("x2", cx)
      .attr("y1", y(s[3])).attr("y2", y(s[4]))
      .attr("stroke", "#333").attr("stroke-dasharray", "3,3");
    g.append("line")
      .attr("x1", cx).attr("x2", cx)
      .attr("y1", y(s[1])).attr("y2", y(s[0]))
      .attr("stroke", "#333").attr("stroke-dasharray", "3,3");
    // staples
    [s[0], s[4]].forEach(function(v) {
      g.append("line")
        .attr("x1", cx - opts.staple / 2).attr("x2", cx + opts.staple / 2)
        .attr("y1", y(v)).attr("y2", y(v))
        .attr("stroke", "#222").attr("stroke-width", 1.2);
    });
    // box
    g.append("rect")
      .attr("x", cx - bw / 2).attr("y", y(s[3]))
      .attr("width", bw).attr("height", y(s[1]) - y(s[3]))
      .attr("fill", "#fff").attr("stroke", "#333").attr("stroke-width", 1);
    // median
    g.append("line")
      .attr("x1", cx - bw / 2).attr("x2", cx + bw / 2)
      .attr("y1", y(s[2])).attr("y2", y(s[2]))
      .attr("stroke", "#000").attr("stroke-width", 3);
    // outliers
    g.selectAll(null)
      .data(opts.outliers[i])
      .enter().append("circle")
        .attr("cx", cx)
        .attr("cy", function(d) { return y(d); })
        .attr("r", 3.2)
        .attr("fill", "none")
        .attr("stroke", "#222")
        .attr("stroke-width", 1);
  });

  svg.append("text")
    .attr("x", opts.titleX).attr("y", 26)
    .attr("font-family", FONT)
    .attr("font-size", opts.titleSize)
    .attr("font-weight", "bold")
    .style("text-anchor", opts.titleAnchor)
    .text(opts.title);
}

function scatter(opts) {
  var x = d3.scaleLinear().domain([0, 1]).range([opts.x0, opts.x1]);
  var y = d3.scaleLinear().domain([0, 1]).range([599.3, 375]);

  // L shaped frame (bty = "l")
  svg.append("path")
    .attr("d", d3.line()([[x(-0.04), y(1.04)], [x(-0.04), y(-0.04)], [x(1.04), y(-0.04)]]))
    .attr("fill", "none").attr("stroke", "#222").attr("stroke-width", 1.2);

  var ya = svg.append("g")
    .attr("transform", "translate(" + x(-0.04) + ",0)")
    .call(d3.axisLeft(y).tickValues(methTicks).tickFormat(d3.format(".1f")).tickSize(7).tickSizeOuter(0))
    .attr("font-family", FONT);
  ya.select(".domain").attr("stroke", "#222");
  ya.selectAll(".tick line").attr("stroke", "#222");
  rotate_y_labels(ya, opts.ylabOffset, "18px");

  var xa = svg.append("g")
    .attr("transform", "translate(0," + y(-0.04) + ")")
    .call(d3.axisBottom(x).tickValues(methTicks).tickFormat(d3.format(".1f")).tickSize(7).tickSizeOuter(0))
    .attr("font-family", FONT);
  xa.select(".domain").attr("stroke", "#222");
  xa.selectAll(".tick line").attr("stroke", "#222");
  xa.selectAll(".tick text")
    .attr("font-size", "19.5px")
    .attr("fill", "#222")
    .attr("y", 12);

  var pts = opts.points
    .concat(opts.topX.map(function(v) { return [v, 1]; }))
    .concat(opts.zeroX.map(function(v) { return [v, 0]; }));

  svg.append("g").selectAll("circle")
    .data(pts)
    .enter().append("circle")
      .attr("cx", function(d) { return x(d[0]); })
      .attr("cy", function(d) { return y(d[1]); })
      .attr("r", 1.45)
      .attr("fill", "#000");

  svg.append("text")
    .attr("x", opts.titleX).attr("y", 357)
    .attr("font-family", FONT)
    .attr("font-size", "18.3px")
    .attr("font-weight", "bold")
    .style("text-anchor", "middle")
    .text(opts.title);

  svg.append("text")
    .attr("x", (x(0) + x(1)) / 2).attr("y", 661)
    .attr("font-family", FONT)
    .attr("font-size", "17px")
    .attr("fill", "#222")
    .style("text-anchor", "middle")
    .text("region methyl Precentage");

  svg.append("text")
    .attr("transform", "translate(" + opts.ytitleX + "," + y(0.5) + ") rotate(-90)")
    .attr("dy", "0.36em")
    .attr("font-family", FONT)
    .attr("font-size", "17px")
    .attr("fill", "#222")
    .style("text-anchor", "middle")
    .text("pattern methyl Percentage");
}

boxplot({
  stats: sizeStats, outliers: sizeOutliers, ticks: sizeTicks,
  domain: [100, 500], yrange: [280.7, 40],
  left: 31.7, right: 304, top: 33.3, bottom: 299,
  x0: 62.7, x1: 273.3, boxWidth: 34, staple: 20, ylabOffset: 15.5,
  title: "reconstructed fragment size", titleX: 167, titleAnchor: "middle", titleSize: "16px"
});

boxplot({
  stats: cpgStats, outliers: cpgOutliers, ticks: cpgTicks,
  domain: [0, 35], yrange: [296.3, 35.7],
  left: 375.7, right: 659.7, top: 33.3, bottom: 298.7,
  x0: 416.7, x1: 628, boxWidth: 34, staple: 20, ylabOffset: 9.5,
  title: "number of cpgs in reconstructed fragment", titleX: 355, titleAnchor: "start", titleSize: "16px"
});

scatter({
  points: tumorPoints, topX: tumorTopX, zeroX: tumorZeroX,
  x0: 64.3, x1: 300, ylabOffset: 14, ytitleX: 11,
  title: "Tumor Sample", titleX: 191
});

scatter({
  points: normalPoints, topX: normalTopX, zeroX: normalZeroX,
  x0: 398.3, x1: 634, ylabOffset: 20, ytitleX: 344,
  title: "Matched Normal Sample", titleX: 518
});

panel_letter("A", 3, 22);
panel_letter("B", 329, 22);
panel_letter("C", 3, 350);
panel_letter("D", 329, 350);
</script>
</body>
</html>
